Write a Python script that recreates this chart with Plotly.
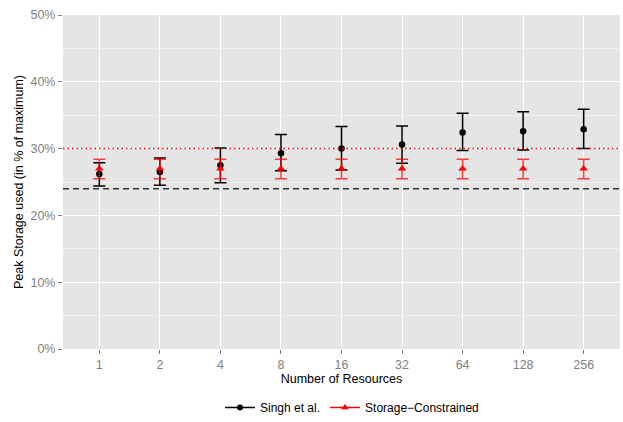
import plotly.graph_objects as go

categories = ["1", "2", "4", "8", "16", "32", "64", "128", "256"]

singh_mean = [26.2, 26.5, 27.5, 29.3, 30.0, 30.6, 32.4, 32.6, 32.9]
singh_upper = [27.9, 28.6, 30.1, 32.1, 33.3, 33.4, 35.3, 35.5, 35.9]
singh_lower = [24.4, 24.5, 24.9, 26.7, 26.8, 27.8, 29.7, 29.8, 30.0]

sc_mean = [27.0, 27.0, 27.0, 27.0, 27.0, 27.0, 27.0, 27.0, 27.0]
sc_upper = [28.4, 28.4, 28.4, 28.4, 28.4, 28.4, 28.4, 28.4, 28.4]
sc_lower = [25.5, 25.5, 25.5, 25.5, 25.5, 25.5, 25.5, 25.5, 25.5]

ref_dashed = 24
ref_dotted = 30

y_ticks = [0, 10, 20, 30, 40, 50]
y_labels = ["0%", "10%", "20%", "30%", "40%", "50%"]

font_family = "Liberation Sans, Arial, sans-serif"

fig = go.Figure()

fig.add_shape(type="line", xref="paper", yref="y", x0=0, x1=1,
              y0=ref_dashed, y1=ref_dashed,
              line=dict(color="#333333", width=1.5, dash="6px,4px"), layer="above")
fig.add_shape(type="line", xref="paper", yref="y", x0=0, x1=1,
              y0=ref_dotted, y1=ref_dotted,
              line=dict(color="#FF0000", width=1.5, dash="1.5px,3px"), layer="above")

fig.add_trace(go.Scatter(
    x=categories, y=singh_mean, mode="markers", showlegend=False,
    marker=dict(symbol="circle", size=6.5, color="black"),
    error_y=dict(type="data", symmetric=False,
                 array=[u - m for u, m in zip(singh_upper, singh_mean)],
                 arrayminus=[m - l for m, l in zip(singh_mean, singh_lower)],
                 color="black", thickness=1.5, width=6),
))
fig.add_trace(go.Scatter(
    x=categories, y=sc_mean, mode="markers", showlegend=False,
    marker=dict(symbol="triangle-up", size=7.5, color="#FF0000"),
    error_y=dict(type="data", symmetric=False,
                 array=[u - m for u, m in zip(sc_upper, sc_mean)],
                 arrayminus=[m - l for m, l in zip(sc_mean, sc_lower)],
                 color="rgba(255,0,0,0.75)", thickness=1.5, width=6),
))

# legend-only traces
fig.add_trace(go.Scatter(
    x=[None], y=[None], mode="lines+markers", name="Singh et al.",
    marker=dict(symbol="circle", size=6, color="black"),
    line=dict(color="black", width=1.5),
))
fig.add_trace(go.Scatter(
    x=[None], y=[None], mode="lines+markers", name="Storage\u2212Constrained",
    marker=dict(symbol="triangle-up", size=7, color="#FF0000"),
    line=dict(color="#FF0000", width=1.5),
))

fig.update_layout(
    width=623, height=422,
    margin=dict(l=63, r=3, t=15, b=73, autoexpand=False),
    plot_bgcolor="#E5E5E5", paper_bgcolor="white",
    font=dict(family=font_family, size=12, color="black"),
    showlegend=True,
    legend=dict(orientation="h", x=0.565, xanchor="center", xref="container",
                y=-0.012, yanchor="bottom", yref="container",
                font=dict(size=12, color="black"), bgcolor="rgba(0,0,0,0)",
                itemwidth=30, tracegroupgap=0),
    xaxis=dict(
        type="category", categoryorder="array", categoryarray=categories,
        range=[-0.6, 8.6],
        showgrid=True, gridcolor="white", gridwidth=1.2,
        ticks="outside", ticklen=4, tickcolor="#7F7F7F", tickwidth=1,
        tickfont=dict(color="#7F7F7F", size=12.5),
        title=dict(text="Number of Resources", font=dict(size=12.5, color="black"), standoff=2),
        zeroline=False, showline=False,
    ),
    yaxis=dict(
        range=[0, 50],
        tickvals=y_ticks, ticktext=y_labels,
        showgrid=True, gridcolor="white", gridwidth=1.2,
        minor=dict(dtick=5, tick0=0, showgrid=True, gridcolor="#F2F2F2", gridwidth=0.6),
        ticks="outside", ticklen=4, tickcolor="#7F7F7F", tickwidth=1,
        tickfont=dict(color="#7F7F7F", size=12.5),
        title=dict(text="Peak Storage used (in % of maximum)", font=dict(size=12.5, color="black"), standoff=4),
        zeroline=False, showline=False,
    ),
)

fig.write_html("out.html")
